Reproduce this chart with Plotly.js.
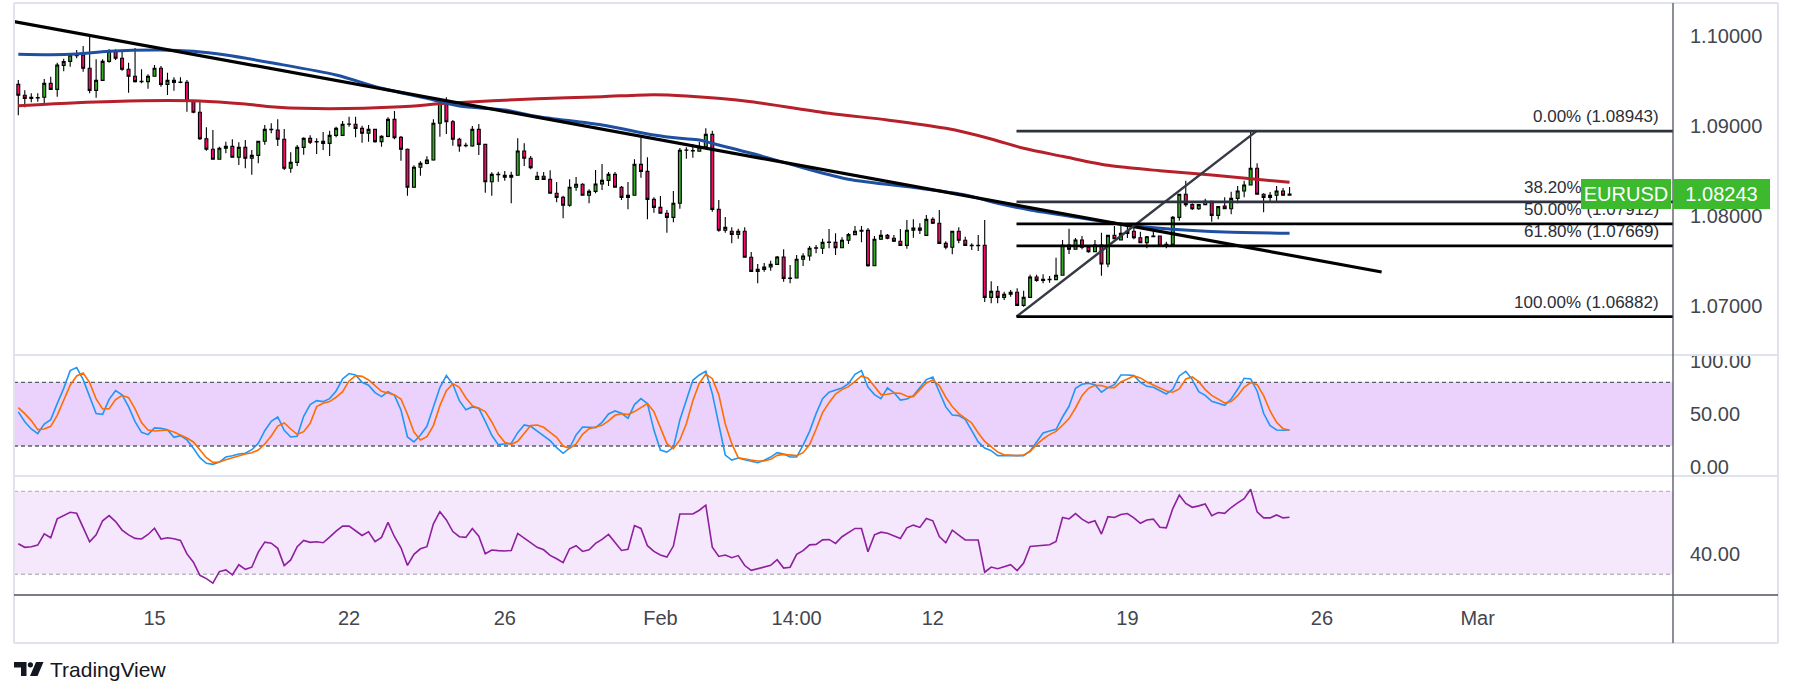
<!DOCTYPE html>
<html>
<head>
<meta charset="utf-8">
<script src="https://cdn.plot.ly/plotly-3.0.1.min.js"></script>
<style>html,body{margin:0;padding:0;background:#fff;}#chart{width:1793px;height:696px;}</style>
</head>
<body>
<div id="chart"></div>
<script>
// ---------------- DATA ----------------
const symbol = 'EURUSD';
const lastPrice = 1.08243;

const open = [
1.09463,1.09341,1.09307,1.09315,1.09319,1.09474,1.09407,1.09674,1.09718,1.09781,
1.09789,1.09641,1.09396,1.09507,1.09718,1.09830,1.09752,1.09630,1.09552,1.09493,
1.09493,1.09552,1.09641,1.09463,1.09507,1.09485,1.09485,1.09274,1.09152,1.08859,
1.08741,1.08630,1.08752,1.08774,1.08652,1.08763,1.08641,1.08674,1.08830,1.08963,
1.08956,1.08852,1.08530,1.08596,1.08763,1.08863,1.08826,1.08830,1.08807,1.08896,
1.08896,1.09019,1.09019,1.08974,1.08919,1.08963,1.08826,1.08885,1.09074,1.08874,
1.08741,1.08319,1.08541,1.08585,1.08622,1.09030,1.09252,1.09048,1.08852,1.08785,
1.08778,1.08963,1.08796,1.08381,1.08463,1.08452,1.08430,1.08452,1.08722,1.08641,
1.08407,1.08441,1.08407,1.08252,1.08207,1.08119,1.08319,1.08352,1.08230,1.08274,
1.08356,1.08396,1.08463,1.08319,1.08207,1.08230,1.08574,1.08496,1.08185,1.08096,
1.08030,1.07985,1.08141,1.08730,1.08726,1.08719,1.08770,1.08907,1.08074,1.07841,
1.07830,1.07796,1.07830,1.07541,1.07385,1.07407,1.07433,1.07463,1.07544,1.07307,
1.07311,1.07519,1.07556,1.07641,1.07641,1.07707,1.07707,1.07648,1.07730,1.07793,
1.07830,1.07840,1.07448,1.07741,1.07785,1.07752,1.07719,1.07674,1.07841,1.07867,
1.07785,1.07963,1.07919,1.07696,1.07652,1.07830,1.07730,1.07674,1.07670,1.07674,
1.07096,1.07163,1.07096,1.07130,1.07152,1.07007,1.07096,1.07322,1.07285,1.07296,
1.07293,1.07341,1.07678,1.07630,1.07733,1.07652,1.07604,1.07678,1.07467,1.07785,
1.07733,1.07807,1.07830,1.07759,1.07704,1.07770,1.07778,1.07667,1.07685,1.07985,
1.08241,1.08126,1.08081,1.08126,1.08163,1.08007,1.08111,1.08081,1.08196,1.08278,
1.08344,1.08530,1.08241,1.08207,1.08230,1.08278,1.08230];

const high = [
1.09511,1.09396,1.09363,1.09363,1.09522,1.09548,1.09704,1.09748,1.09807,1.09844,
1.09889,1.10000,1.09741,1.09741,1.09852,1.09852,1.09830,1.09704,1.09867,1.09630,
1.09574,1.09678,1.09667,1.09593,1.09541,1.09541,1.09511,1.09280,1.09267,1.08985,
1.08956,1.08770,1.08826,1.08852,1.08819,1.08844,1.08733,1.08830,1.09011,1.09030,
1.09074,1.08967,1.08707,1.08789,1.08874,1.08896,1.08863,1.08933,1.08948,1.08993,
1.09056,1.09104,1.09104,1.09004,1.09011,1.08970,1.08896,1.09096,1.09167,1.08889,
1.08750,1.08563,1.08607,1.08663,1.09074,1.09281,1.09319,1.09067,1.08870,1.08815,
1.09000,1.09022,1.08800,1.08485,1.08493,1.08500,1.08493,1.08863,1.08807,1.08667,
1.08493,1.08489,1.08507,1.08378,1.08226,1.08407,1.08433,1.08363,1.08296,1.08511,
1.08578,1.08489,1.08489,1.08333,1.08378,1.08630,1.08867,1.08652,1.08207,1.08222,
1.08067,1.08278,1.08756,1.08763,1.08796,1.08826,1.08974,1.08948,1.08178,1.07989,
1.07874,1.07859,1.07874,1.07600,1.07467,1.07478,1.07504,1.07556,1.07630,1.07456,
1.07567,1.07585,1.07667,1.07678,1.07748,1.07856,1.07807,1.07763,1.07811,1.07889,
1.07889,1.07867,1.07778,1.07844,1.07800,1.07789,1.07856,1.07956,1.07963,1.07919,
1.08011,1.07985,1.08067,1.07719,1.07833,1.07874,1.07770,1.07696,1.07789,1.07956,
1.07274,1.07222,1.07159,1.07178,1.07196,1.07170,1.07348,1.07348,1.07352,1.07333,
1.07537,1.07733,1.07859,1.07756,1.07778,1.07678,1.07733,1.07815,1.07790,1.07889,
1.07900,1.07881,1.07900,1.07826,1.07778,1.07837,1.07780,1.07715,1.08000,1.08245,
1.08393,1.08141,1.08130,1.08193,1.08167,1.08107,1.08207,1.08270,1.08333,1.08393,
1.08943,1.08585,1.08252,1.08267,1.08333,1.08311,1.08322];

const low = [
1.09119,1.09207,1.09263,1.09270,1.09237,1.09400,1.09326,1.09607,1.09659,1.09752,
1.09604,1.09363,1.09315,1.09500,1.09704,1.09733,1.09615,1.09370,1.09482,1.09474,
1.09415,1.09548,1.09437,1.09344,1.09393,1.09474,1.09159,1.09141,1.08844,1.08726,
1.08625,1.08625,1.08696,1.08648,1.08567,1.08530,1.08459,1.08585,1.08793,1.08919,
1.08778,1.08511,1.08481,1.08556,1.08681,1.08800,1.08689,1.08733,1.08667,1.08874,
1.08889,1.08993,1.08874,1.08815,1.08826,1.08815,1.08770,1.08874,1.08852,1.08615,
1.08226,1.08310,1.08448,1.08574,1.08615,1.08881,1.08911,1.08781,1.08715,1.08763,
1.08770,1.08678,1.08259,1.08226,1.08381,1.08393,1.08141,1.08448,1.08556,1.08519,
1.08400,1.08400,1.08248,1.08152,1.07974,1.08104,1.08281,1.08226,1.08141,1.08252,
1.08289,1.08333,1.08315,1.08178,1.08074,1.08226,1.08426,1.07963,1.08037,1.08026,
1.07815,1.07930,1.08081,1.08637,1.08648,1.08715,1.08741,1.08048,1.07826,1.07815,
1.07696,1.07748,1.07537,1.07381,1.07252,1.07381,1.07393,1.07456,1.07270,1.07252,
1.07307,1.07444,1.07504,1.07585,1.07578,1.07641,1.07567,1.07648,1.07689,1.07789,
1.07707,1.07437,1.07444,1.07733,1.07741,1.07711,1.07670,1.07637,1.07759,1.07800,
1.07780,1.07911,1.07689,1.07630,1.07574,1.07696,1.07667,1.07622,1.07611,1.07044,
1.07030,1.07030,1.07067,1.07104,1.07004,1.06993,1.07093,1.07270,1.07252,1.07259,
1.07289,1.07337,1.07578,1.07626,1.07630,1.07593,1.07600,1.07337,1.07430,1.07744,
1.07730,1.07756,1.07741,1.07700,1.07641,1.07770,1.07659,1.07641,1.07680,1.07948,
1.08104,1.08067,1.08067,1.08122,1.07937,1.07963,1.08078,1.08019,1.08141,1.08207,
1.08341,1.08237,1.08041,1.08159,1.08159,1.08226,1.08226];

const close = [
1.09341,1.09307,1.09319,1.09311,1.09474,1.09407,1.09678,1.09715,1.09789,1.09785,
1.09641,1.09396,1.09507,1.09718,1.09830,1.09752,1.09630,1.09552,1.09493,1.09496,
1.09552,1.09641,1.09463,1.09507,1.09485,1.09489,1.09274,1.09152,1.08859,1.08741,
1.08630,1.08752,1.08774,1.08652,1.08763,1.08641,1.08674,1.08830,1.08963,1.08959,
1.08852,1.08530,1.08596,1.08763,1.08863,1.08819,1.08822,1.08807,1.08896,1.08974,
1.09019,1.09023,1.08974,1.08919,1.08963,1.08826,1.08885,1.09074,1.08870,1.08741,
1.08319,1.08541,1.08585,1.08622,1.09030,1.09252,1.09048,1.08852,1.08778,1.08781,
1.08963,1.08796,1.08381,1.08463,1.08459,1.08430,1.08452,1.08722,1.08641,1.08537,
1.08441,1.08407,1.08252,1.08207,1.08119,1.08319,1.08352,1.08230,1.08274,1.08356,
1.08396,1.08463,1.08319,1.08207,1.08230,1.08574,1.08496,1.08185,1.08096,1.08030,
1.07985,1.08141,1.08730,1.08733,1.08722,1.08770,1.08907,1.08074,1.07841,1.07874,
1.07796,1.07830,1.07541,1.07385,1.07407,1.07433,1.07463,1.07544,1.07307,1.07311,
1.07519,1.07556,1.07641,1.07648,1.07707,1.07711,1.07648,1.07730,1.07793,1.07830,
1.07840,1.07448,1.07741,1.07785,1.07752,1.07719,1.07674,1.07841,1.07867,1.07841,
1.07963,1.07919,1.07696,1.07652,1.07830,1.07730,1.07674,1.07670,1.07674,1.07096,
1.07163,1.07096,1.07130,1.07152,1.07007,1.07096,1.07322,1.07285,1.07296,1.07293,
1.07341,1.07674,1.07630,1.07733,1.07652,1.07604,1.07678,1.07467,1.07785,1.07748,
1.07807,1.07830,1.07759,1.07704,1.07770,1.07778,1.07667,1.07685,1.07985,1.08241,
1.08126,1.08081,1.08126,1.08163,1.08007,1.08104,1.08081,1.08196,1.08278,1.08344,
1.08530,1.08241,1.08207,1.08230,1.08278,1.08230,1.08243];

// moving averages (sampled along the curves) : bar index -> value
const redMaIdx  = [0, 9, 19, 28, 35, 40, 48, 59, 66, 80, 90, 98, 103, 113, 125, 134, 143, 150, 155, 161, 168, 176, 184, 196];
const redMaVal  = [1.09226,1.09259,1.09281,1.09278,1.09244,1.09208,1.09192,1.09214,1.09252,1.09303,1.09326,1.09348,1.09333,1.09270,1.09141,1.09067,1.08974,1.08856,1.08752,1.08663,1.08563,1.08503,1.08456,1.08374];
const blueMaIdx = [0, 5, 9, 14, 22, 27, 32, 39, 49, 56, 63, 68, 75, 80, 90, 98, 102, 105, 107, 113, 121, 128, 139, 146, 151, 156, 161, 171, 178, 186, 196];
const blueMaVal = [1.09797,1.09792,1.09800,1.09830,1.09844,1.09830,1.09789,1.09703,1.09567,1.09419,1.09308,1.09222,1.09178,1.09106,1.09011,1.08900,1.08863,1.08844,1.08808,1.08697,1.08536,1.08408,1.08308,1.08233,1.08141,1.08067,1.08011,1.07900,1.07852,1.07822,1.07808];

// drawings
const trendIdx = [-0.66, 210.2];
const trendVal = [1.10161, 1.07378];
const fibStartIdx = 153.9;
const fibEndIdx = 190.9;
const fibRatios = [0, 0.382, 0.5, 0.618, 1];
const fibLevels = [1.08943, 1.08156, 1.07912, 1.07669, 1.06882];

// Stochastic RSI %K and %D
const stochK = [
52.1,42.9,36.0,31.7,40.6,44.8,59.9,74.3,91.0,93.8,
82.5,66.8,50.5,49.8,63.9,72.1,68.1,57.1,42.9,32.9,
30.7,37.0,36.6,35.4,28.2,29.7,25.7,17.8,9.0,3.7,
2.7,4.9,9.6,10.9,12.5,13.1,16.5,22.5,34.4,43.2,
47.3,34.8,28.5,29.1,48.0,59.0,62.7,61.8,64.6,71.8,
83.1,88.2,86.9,80.0,77.2,70.3,66.5,71.2,67.7,53.9,
28.5,23.8,30.4,38.5,56.4,75.0,86.3,78.1,62.7,54.2,
56.8,55.5,43.2,30.1,21.3,21.6,22.5,32.6,39.8,38.5,
34.1,29.1,25.0,18.4,13.1,18.1,30.4,37.9,37.3,37.3,
42.3,50.2,53.0,50.8,46.1,59.0,64.6,59.9,35.0,16.2,
14.3,18.7,44.5,64.0,81.9,86.9,90.4,69.3,39.8,11.5,
6.8,8.7,7.1,5.6,4.3,6.5,9.6,13.7,12.5,9.6,
9.6,20.9,33.8,50.5,64.6,70.6,72.8,74.7,78.7,87.5,
91.0,75.6,68.4,64.6,74.7,70.3,63.3,64.3,67.4,75.0,
82.5,85.0,70.3,56.8,49.2,48.6,45.1,33.8,23.8,18.1,
15.6,10.9,10.9,10.9,10.3,10.9,15.3,24.4,32.3,34.1,
35.7,47.3,57.4,74.3,78.1,79.1,77.8,70.6,75.0,77.8,
86.9,86.9,86.3,80.0,76.2,75.3,72.5,69.0,73.4,86.0,
90.4,82.5,71.2,67.7,62.1,60.2,58.3,64.3,73.4,83.8,
83.1,71.8,50.8,39.2,35.1,34.8,35.1];

const stochD = [
56.1,50.5,43.9,35.4,36.0,38.5,48.9,63.3,77.2,86.0,
88.8,79.7,64.3,54.9,55.2,63.7,67.7,65.5,54.9,42.0,
35.1,34.1,34.8,35.1,33.2,30.7,27.5,23.8,16.2,9.0,
4.6,4.9,7.1,9.0,11.2,12.5,13.7,16.2,21.9,29.4,
38.8,41.7,36.0,31.0,33.5,41.4,57.1,60.2,61.8,65.9,
71.2,81.3,86.3,85.6,82.2,76.9,71.5,69.9,68.1,64.3,
49.9,33.2,25.7,28.8,39.2,58.0,72.1,78.7,75.3,65.5,
58.0,55.5,52.4,42.6,31.0,23.5,21.6,24.4,31.6,39.2,
39.8,37.6,32.9,28.2,20.0,17.8,21.9,31.0,36.3,37.9,
39.5,43.6,48.9,50.5,49.6,52.4,56.4,59.9,52.4,36.6,
22.2,17.5,25.7,41.0,62.7,79.1,87.8,83.4,68.4,40.7,
22.2,9.0,7.7,6.8,5.9,5.9,7.4,11.2,12.1,11.8,
10.9,13.7,21.3,35.7,51.4,60.8,69.0,73.1,75.9,80.9,
86.0,83.8,75.9,68.4,68.7,69.9,69.6,66.8,66.5,72.8,
79.4,82.2,76.9,65.9,57.1,50.5,46.4,41.7,32.3,24.4,
19.4,14.3,11.8,11.2,10.9,11.5,14.7,21.3,26.6,30.7,
33.8,39.5,45.8,55.8,67.4,74.3,77.2,76.9,75.0,75.0,
80.3,83.1,86.0,84.1,80.3,77.5,74.7,71.8,70.6,73.7,
83.1,85.0,80.6,73.1,67.7,64.3,60.5,61.8,67.4,75.3,
79.7,77.8,67.4,53.0,42.3,36.3,35.1];

// RSI
const rsi = [
44.7,43.0,43.3,44.1,49.5,47.6,56.7,58.5,59.9,59.4,
52.6,45.7,49.0,55.8,58.3,55.4,51.3,49.0,47.3,47.0,
49.2,52.2,47.0,47.6,47.1,46.3,39.8,35.8,29.5,27.9,
25.7,31.3,32.1,29.7,34.6,32.4,33.4,40.7,45.5,45.0,
42.5,34.2,36.9,43.3,46.3,45.4,45.7,45.2,47.9,50.8,
53.2,53.2,51.0,48.7,50.5,45.7,47.8,55.0,48.1,42.8,
34.3,39.6,42.3,43.3,54.3,60.2,56.2,50.6,48.1,47.8,
52.1,48.4,39.9,41.7,41.4,41.2,41.5,49.7,47.4,45.4,
43.0,41.8,39.1,37.5,35.6,42.3,43.8,41.0,41.8,44.9,
46.8,49.2,45.5,41.5,42.0,53.5,52.1,43.8,41.0,39.3,
38.3,43.6,59.1,59.0,59.1,60.9,63.3,43.1,38.6,39.3,
38.0,39.0,34.2,31.9,32.6,33.4,34.3,37.0,33.0,33.4,
39.6,41.4,44.2,44.4,46.6,46.8,44.9,48.1,50.3,52.1,
52.1,40.9,49.0,50.3,49.8,48.6,47.3,52.4,53.7,52.6,
56.9,55.8,48.2,45.2,51.3,48.9,46.6,46.5,46.5,31.0,
33.5,32.7,33.5,34.6,31.8,35.4,43.4,43.6,43.9,44.2,
45.8,57.4,56.7,59.3,56.6,54.8,55.8,49.4,57.8,57.4,
58.8,59.3,57.2,54.6,56.2,56.6,52.7,52.4,61.7,68.2,
64.2,62.3,63.0,63.9,58.3,59.8,59.4,62.2,64.4,66.5,
71.0,60.1,57.2,57.2,58.6,57.2,57.5];

// axis ticks
const dateTickIdx  = [21, 51, 75, 99, 120, 141, 171, 201, 225];
const dateTickText = ['15', '22', '26', 'Feb', '14:00', '12', '19', '26', 'Mar'];
const priceTicks = [1.07, 1.08, 1.09, 1.10];
const stochTicks = [0, 50, 100];
const rsiTicks = [40];

// ---------------- LAYOUT HELPERS ----------------
const W = 1793, H = 696;
const PX = x => x / W;
const PY = y => 1 - y / H;
const barIdx = open.map((_, i) => i);
const X_RANGE = [-0.663, 255.12];
const FONT = 'Liberation Sans, Arial, sans-serif';
const AXIS_TXT = '#43464e';

const traces = [
  {type:'scatter', mode:'lines', x:redMaIdx, y:redMaVal, line:{color:'#b5202a', width:3, shape:'spline', smoothing:0.8}, hoverinfo:'skip'},
  {type:'scatter', mode:'lines', x:blueMaIdx, y:blueMaVal, line:{color:'#1f4fa3', width:3, shape:'spline', smoothing:0.8}, hoverinfo:'skip'},
  {type:'candlestick', x:barIdx, open:open, high:high, low:low, close:close,
   increasing:{fillcolor:'#34ad25', line:{color:'#000000', width:1.1}},
   decreasing:{fillcolor:'#f5096d', line:{color:'#000000', width:1.1}},
   whiskerwidth:0, hoverinfo:'skip'},
  {type:'scatter', mode:'lines', x:trendIdx, y:trendVal, line:{color:'#000000', width:3.2}, hoverinfo:'skip'},
  {type:'scatter', mode:'lines', x:[fibStartIdx, fibEndIdx], y:[fibLevels[4], fibLevels[0]], line:{color:'#363a45', width:2.5}, hoverinfo:'skip'},
  {type:'scatter', mode:'lines', x:barIdx, y:stochK, yaxis:'y2', line:{color:'#2196f3', width:1.6}, hoverinfo:'skip'},
  {type:'scatter', mode:'lines', x:barIdx, y:stochD, yaxis:'y2', line:{color:'#ff6d00', width:1.6}, hoverinfo:'skip'},
  {type:'scatter', mode:'lines', x:barIdx, y:rsi, yaxis:'y3', line:{color:'#8e1f9f', width:1.6}, hoverinfo:'skip'}
];

const shapes = [];
// indicator bands
shapes.push({type:'rect', layer:'below', xref:'paper', yref:'y2', x0:PX(14), x1:PX(1673), y0:20, y1:80, fillcolor:'#ead2fc', line:{width:0}});
shapes.push({type:'rect', layer:'below', xref:'paper', yref:'y3', x0:PX(14), x1:PX(1673), y0:30, y1:70, fillcolor:'#f5e8fd', line:{width:0}});
[20, 80].forEach(v => shapes.push({type:'line', layer:'below', xref:'paper', yref:'y2', x0:PX(14), x1:PX(1673), y0:v, y1:v, line:{color:'#5b5e68', width:1.3, dash:'4px,3px'}}));
[30, 70].forEach(v => shapes.push({type:'line', layer:'below', xref:'paper', yref:'y3', x0:PX(14), x1:PX(1673), y0:v, y1:v, line:{color:'#b9b9c2', width:1.3, dash:'4px,3px'}}));
// fib levels
fibLevels.forEach((lv, i) => shapes.push({type:'line', xref:'x', yref:'y', x0:fibStartIdx, x1:X_RANGE[1], y0:lv, y1:lv,
  line:{color: i < 2 ? '#2e323c' : '#000000', width:2.8}}));
// frame and separators
const LIGHT = '#e0e3eb';
shapes.push({type:'line', xref:'paper', yref:'paper', x0:PX(14), x1:PX(1778), y0:PY(3), y1:PY(3), line:{color:LIGHT, width:2}});
shapes.push({type:'line', xref:'paper', yref:'paper', x0:PX(14), x1:PX(1778), y0:PY(643), y1:PY(643), line:{color:LIGHT, width:2}});
shapes.push({type:'line', xref:'paper', yref:'paper', x0:PX(14), x1:PX(14), y0:PY(3), y1:PY(643), line:{color:LIGHT, width:2}});
shapes.push({type:'line', xref:'paper', yref:'paper', x0:PX(1778), x1:PX(1778), y0:PY(3), y1:PY(643), line:{color:LIGHT, width:2}});
shapes.push({type:'line', xref:'paper', yref:'paper', x0:PX(14), x1:PX(1778), y0:PY(355), y1:PY(355), line:{color:LIGHT, width:2}});
shapes.push({type:'line', xref:'paper', yref:'paper', x0:PX(14), x1:PX(1778), y0:PY(476), y1:PY(476), line:{color:LIGHT, width:2}});
shapes.push({type:'line', xref:'paper', yref:'paper', x0:PX(14), x1:PX(1778), y0:PY(595), y1:PY(595), line:{color:'#50535e', width:1.3}});
shapes.push({type:'line', xref:'paper', yref:'paper', x0:PX(1673), x1:PX(1673), y0:PY(3), y1:PY(643), line:{color:'#50535e', width:1.3}});
// TradingView logo mark
const pth = pts => 'M' + pts.map(p => PX(p[0]) + ',' + PY(p[1])).join(' L') + ' Z';
shapes.push({type:'path', xref:'paper', yref:'paper', path:pth([[14,662],[26.5,662],[26.5,676],[21,676],[21,667.5],[14,667.5]]), fillcolor:'#131722', line:{width:0}});
shapes.push({type:'circle', xref:'paper', yref:'paper', x0:PX(27.8), x1:PX(33), y0:PY(662.2), y1:PY(667.4), fillcolor:'#131722', line:{width:0}});
shapes.push({type:'path', xref:'paper', yref:'paper', path:pth([[36,662],[43.5,662],[37.5,676],[30,676]]), fillcolor:'#131722', line:{width:0}});

const annotations = [];
fibRatios.forEach((r, i) => annotations.push({
  xref:'paper', yref:'y', x:PX(1661), y:fibLevels[i], xanchor:'right', yanchor:'bottom', yshift:3,
  text:(r*100).toFixed(2) + '% (' + fibLevels[i].toFixed(5) + ')', showarrow:false,
  font:{family:FONT, size:17, color:'#2a2e39'}
}));
annotations.push({xref:'paper', yref:'y', x:PX(1626), y:lastPrice, xanchor:'center', yanchor:'middle', text:symbol,
  showarrow:false, bgcolor:'#3cb92c', width:90, height:30, borderpad:0, borderwidth:0, font:{family:FONT, size:20, color:'#ffffff'}});
annotations.push({xref:'paper', yref:'y', x:PX(1721.5), y:lastPrice, xanchor:'center', yanchor:'middle', text:lastPrice.toFixed(5),
  showarrow:false, bgcolor:'#3cb92c', width:97, height:30, borderpad:0, borderwidth:0, font:{family:FONT, size:20, color:'#ffffff'}});
annotations.push({xref:'paper', yref:'paper', x:PX(48), y:PY(669), xanchor:'left', yanchor:'middle', text:'TradingView',
  showarrow:false, font:{family:FONT, size:21, color:'#131722'}});

const yCommon = {side:'right', anchor:'x', showgrid:false, zeroline:false, showline:false, ticks:'outside', ticklen:12,
  tickcolor:'rgba(0,0,0,0)', tickfont:{family:FONT, size:20, color:AXIS_TXT}, tickmode:'array', fixedrange:true};

const layout = {
  width:W, height:H, margin:{l:0, r:0, t:0, b:0}, paper_bgcolor:'#ffffff', plot_bgcolor:'rgba(0,0,0,0)',
  showlegend:false, boxgap:0.36, hovermode:false,
  font:{family:FONT, color:'#131722'},
  xaxis:{domain:[PX(14), PX(1673)], range:X_RANGE, anchor:'y3', tickmode:'array', tickvals:dateTickIdx, ticktext:dateTickText,
    showgrid:false, zeroline:false, showline:false, ticks:'outside', ticklen:5, tickcolor:'rgba(0,0,0,0)',
    tickfont:{family:FONT, size:20, color:AXIS_TXT}, rangeslider:{visible:false}, fixedrange:true},
  yaxis:Object.assign({}, yCommon, {domain:[PY(355), PY(3)], range:[1.064556, 1.103667], tickvals:priceTicks, ticktext:priceTicks.map(v => v.toFixed(5))}),
  yaxis2:Object.assign({}, yCommon, {domain:[PY(476), PY(355)], range:[-8.26, 105.7], tickvals:stochTicks, ticktext:stochTicks.map(v => v.toFixed(2))}),
  yaxis3:Object.assign({}, yCommon, {domain:[PY(595), PY(476)], range:[20.0, 77.4], tickvals:rsiTicks, ticktext:rsiTicks.map(v => v.toFixed(2))}),
  shapes:shapes, annotations:annotations
};

Plotly.newPlot('chart', traces, layout, {displayModeBar:false, staticPlot:true});
</script>
</body>
</html>
